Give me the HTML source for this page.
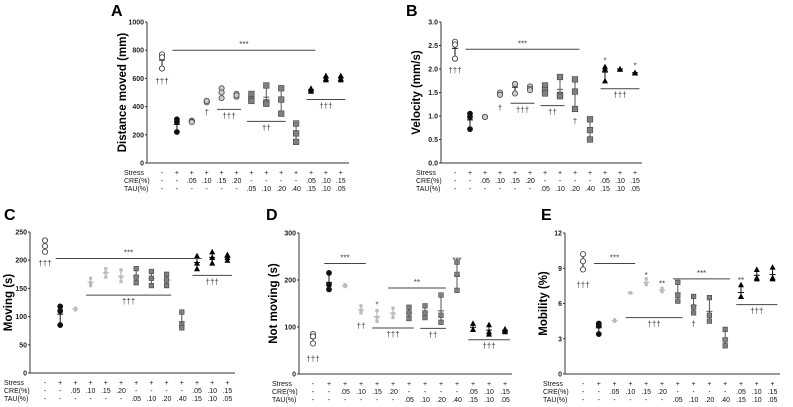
<!DOCTYPE html>
<html><head><meta charset="utf-8"><style>
body{margin:0;background:#fff;}
svg{display:block;font-family:"Liberation Sans",Arial,sans-serif;}
</style></head><body>
<svg id="fig" width="793" height="407" viewBox="0 0 793 407" xmlns="http://www.w3.org/2000/svg"></svg>
<script>
const categories = ["Ctrl","Stress","C.05","C.10","C.15","C.20","T.05","T.10","T.20","T.40","CT1","CT2","CT3"];
const stressRow = ["-","+","+","+","+","+","+","+","+","+","+","+","+"];
const creRow = ["-","-",".05",".10",".15",".20","-","-","-","-",".05",".10",".15"];
const tauRow = ["-","-","-","-","-","-",".05",".10",".20",".40",".15",".10",".05"];

const distanceValues = [[770,750,670],[310,290,220],[300,295,290],[440,430,440],[530,460,500],[490,470,480],[490,450,440],[550,430,420],[530,450,350],[280,210,150],[530,510,520],[620,600,590],[620,590,600]];
const distanceTicks = [0,200,400,600,800,1000];
const velocityValues = [[2.58,2.52,2.22],[1.05,0.98,0.72],[0.98,0.98,0.98],[1.5,1.45,1.45],[1.68,1.68,1.48],[1.63,1.58,1.55],[1.65,1.55,1.48],[1.83,1.45,1.42],[1.78,1.52,1.15],[0.93,0.7,0.5],[2.05,1.75,2.0],[2.0,2.0,2.0],[1.92,1.92,1.92]];
const velocityTicks = [0,0.5,1,1.5,2,2.5,3];
const velocityTickLabels = ["0.0","0.5","1.0","1.5","2.0","2.5","3.0"];
const movingValues = [[235,225,215],[118,110,85],[115,113,112],[168,160,155],[185,178,170],[183,170,162],[185,170,160],[180,168,155],[175,165,155],[108,85,80],[208,195,185],[215,205,195],[210,205,200]];
const movingTicks = [0,50,100,150,200,250];
const notMovingValues = [[85,80,65],[215,190,180],[190,188,186],[145,135,130],[135,120,112],[140,128,120],[142,130,118],[145,130,120],[168,125,110],[238,212,178],[108,95,95],[105,90,85],[96,93,90]];
const notMovingTicks = [0,100,200,300];
const mobilityValues = [[10.2,9.6,8.9],[4.3,4.1,3.4],[4.6,4.5,4.5],[6.9,6.9,6.9],[8.1,7.7,7.6],[7.3,7.1,7.0],[7.8,6.7,6.2],[6.6,5.7,5.2],[6.5,5.0,4.5],[3.8,2.9,2.4],[7.6,6.6,6.6],[8.9,8.2,8.1],[9.1,8.2,8.1]];
const mobilityTicks = [0,3,6,9,12];

const annA = [["txt",0,0,590,"†††"],["above",1,10,800,"***"],["txt",3,3,370,"†"],["below",4,5,380,"†††"],["below",6,8,295,"††"],["below",10,12,450,"†††"]];
const annB = [["txt",0,0,2.0,"†††"],["above",1,8,2.42,"***"],["txt",3,3,1.2,"†"],["below",4,5,1.27,"†††"],["below",6,7,1.22,"††"],["txt",8,8,0.92,"†"],["txt",10,10,2.2,"*"],["txt",12,12,2.1,"*"],["below",10,12,1.58,"†††"]];
const annC = [["txt",0,0,197,"†††"],["above",1,10,203,"***"],["below",3,8,138,"†††"],["below",10,12,173,"†††"]];
const annD = [["txt",0,0,35,"†††"],["above",1,3,235,"***"],["txt",3,3,105,"††"],["txt",4,4,150,"*"],["below",4,6,98,"†††"],["above",5,8,183,"**"],["below",7,8,97,"††"],["txt",9,9,245,"***"],["below",10,12,73,"†††"]];
const annE = [["txt",0,0,7.7,"†††"],["above",1,3,9.4,"***"],["txt",4,4,8.5,"*"],["txt",5,5,7.8,"**"],["below",3,6,4.8,"†††"],["above",6,9,8.1,"***"],["txt",7,7,4.4,"†"],["txt",10,10,8.1,"**"],["below",10,12,5.9,"†††"]];

const NS = "http://www.w3.org/2000/svg";
const fig = document.getElementById("fig");
function el(tag, attrs, parent, text){
  const e = document.createElementNS(NS, tag);
  for (const k in attrs) e.setAttribute(k, attrs[k]);
  if (text !== undefined) e.textContent = text;
  (parent || fig).appendChild(e);
  return e;
}

function panel(c){
  const g = el("g", {});
  
  
  const y = v => c.y0 + (v - c.min) / (c.max - c.min) * (c.y1 - c.y0);
  const x = i => c.x0 + i * c.dx;
  const t = el("text", {x:c.tx, y:c.ty, "font-size":16, "font-weight":"bold"}, g, c.letter);
  
  
  const ya = el("line", {x1:c.ax, y1:c.y1, x2:c.ax, y2:c.y0, stroke:"#333", "stroke-width":1}, g);
  
  
  const xa = el("line", {x1:c.ax, y1:c.y0, x2:c.xend, y2:c.y0, stroke:"#333", "stroke-width":1}, g);
  
  
  c.ticks.forEach((v, i) => {
    el("line", {x1:c.ax-2, y1:y(v), x2:c.ax, y2:y(v), stroke:"#333"}, g);
    const tl = el("text", {x:c.ax-3, y:y(v)+2.5, "font-size":7, "font-weight":"bold", "text-anchor":"end", fill:"#222"}, g, c.tickLabels ? c.tickLabels[i] : v);
    
    
  });
  const yl = el("text", {transform:`translate(${c.ylx},${(c.y0+c.y1)/2}) rotate(-90)`, "font-size":11.5, "font-weight":"bold", "text-anchor":"middle"}, g, c.ylabel);
  
  
  const rows = [["Stress",stressRow],["CRE(%)",creRow],["TAU(%)",tauRow]];
  rows.forEach((r, ri) => {
    const ry = c.y0 + 12 + ri * 8;
    const rl = el("text", {x:c.rlx, y:ry, "font-size":7, fill:"#111"}, g, r[0]);
    
    
    r[1].forEach((s, i) => {
      const ct = el("text", {x:x(i), y:ry, "font-size":7, "text-anchor":"middle", fill:"#111"}, g, s);
      
      
    });
  });
  c.data.forEach((vals, i) => {
    const cx = x(i);
    const mn = Math.min(...vals), mx = Math.max(...vals);
    const mean = vals.reduce((a,b)=>a+b,0)/vals.length;
    const grp = el("g", {}, g);
    
    
    const light = c.lightMid && i >= 2 && i <= 5;
    const col = light ? "#aaa" : (i>=6 && i<=9 ? "#555" : "#111");
    el("line", {x1:cx, y1:y(mx), x2:cx, y2:y(mn), stroke:col, "stroke-width":1}, grp);
    el("line", {x1:cx-3, y1:y(mean), x2:cx+3, y2:y(mean), stroke:col, "stroke-width":1}, grp);
    vals.forEach(v => {
      const py = y(v);
      let m;
      if (i === 0) m = el("circle", {cx, cy:py, r:2.6, fill:"#fff", stroke:"#444", "stroke-width":0.9}, grp);
      else if (i === 1) m = el("circle", {cx, cy:py, r:2.4, fill:"#111", stroke:"#111"}, grp);
      else if (i <= 5) m = light ? el("rect", {x:cx-1.6, y:py-1.6, width:3.2, height:3.2, fill:"#bbb"}, grp)
                                 : el("circle", {cx, cy:py, r:2.6, fill:"#ccc", stroke:"#555", "stroke-width":0.9}, grp);
      else if (i <= 9) { const s = c.lightMid ? 2.3 : 2.8; m = el("rect", {x:cx-s, y:py-s, width:2*s, height:2*s, fill:"#808080", stroke:"#444", "stroke-width":0.6}, grp); }
      else m = el("polygon", {points:`${cx},${py-3} ${cx-3},${py+2.6} ${cx+3},${py+2.6}`, fill:"#000"}, grp);
      
      
    });
  });
  c.ann.forEach(a => {
    const [type, f, to, v, txt] = a;
    const ay = y(v);
    if (type === "txt") {
      const at = el("text", {x:x(f), y:ay+4, "font-size":8, "text-anchor":"middle", fill:"#444"}, g, txt);
      
      
    } else {
      const x1 = x(f) - c.dx*0.3, x2 = x(to) + c.dx*0.3;
      const ln = el("line", {x1, y1:ay, x2, y2:ay, stroke:"#444", "stroke-width":1}, g);
      
      
      const ty = type === "above" ? ay - 3 : ay + 9;
      const at = el("text", {x:(x1+x2)/2, y:ty, "font-size":8, "text-anchor":"middle", fill:"#444"}, g, txt);
      
      
    }
  });
}

panel({name:"panel-a-distance", letter:"A", tx:111, ty:16, ax:147, x0:162, dx:14.9, xend:349, y0:163, y1:22, min:0, max:1000, ticks:distanceTicks, ylx:126, ylabel:"Distance moved (mm)", rlx:124, data:distanceValues, ann:annA});
panel({name:"panel-b-velocity", letter:"B", tx:406, ty:16, ax:441, x0:455, dx:15, xend:642, y0:163, y1:22, min:0, max:3, ticks:velocityTicks, tickLabels:velocityTickLabels, ylx:420, ylabel:"Velocity (mm/s)", rlx:416, data:velocityValues, ann:annB});
panel({name:"panel-c-moving", letter:"C", tx:4, ty:220, ax:30, x0:45, dx:15.2, xend:235, y0:373, y1:232, min:0, max:250, ticks:movingTicks, ylx:12, ylabel:"Moving (s)", rlx:4, data:movingValues, ann:annC, lightMid:true});
panel({name:"panel-d-not-moving", letter:"D", tx:266, ty:220, ax:299, x0:313, dx:16, xend:512, y0:374, y1:233, min:0, max:300, ticks:notMovingTicks, ylx:277, ylabel:"Not moving (s)", rlx:272, data:notMovingValues, ann:annD, lightMid:true});
panel({name:"panel-e-mobility", letter:"E", tx:541, ty:220, ax:565, x0:583, dx:15.8, xend:780, y0:374, y1:233, min:0, max:12, ticks:mobilityTicks, ylx:547, ylabel:"Mobility (%)", rlx:543, data:mobilityValues, ann:annE, lightMid:true});
</script>
</body></html>
